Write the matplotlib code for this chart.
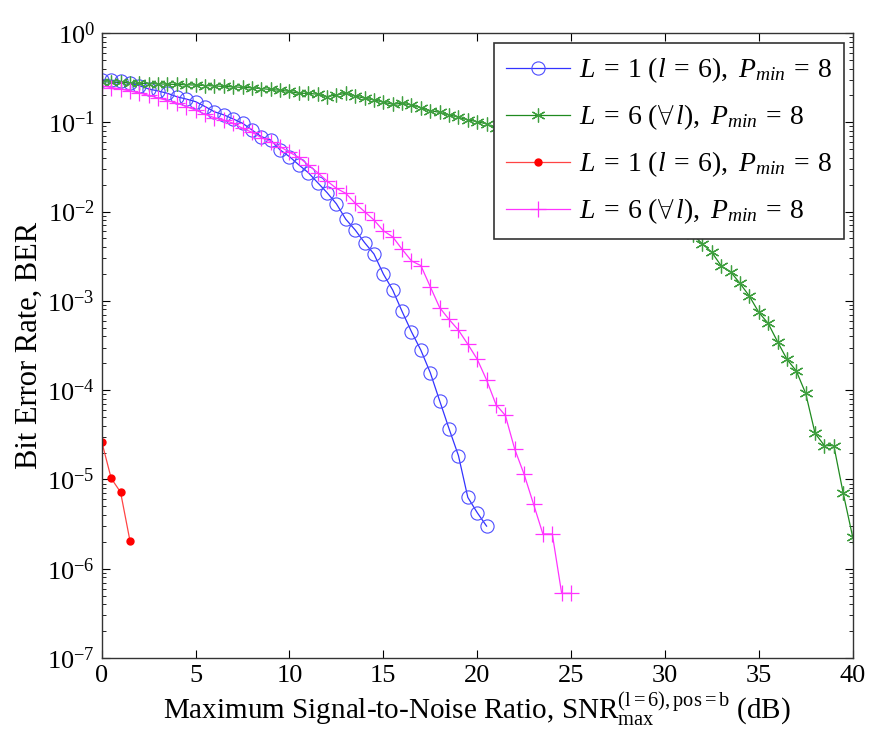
import numpy as np
import matplotlib
matplotlib.use('Agg')
import matplotlib.pyplot as plt

plt.rcParams['font.family'] = 'Liberation Serif'
plt.rcParams['mathtext.fontset'] = 'custom'
plt.rcParams['mathtext.rm'] = 'Liberation Serif'
plt.rcParams['mathtext.it'] = 'Liberation Serif:italic'
plt.rcParams['mathtext.bf'] = 'Liberation Serif:bold'

# datos (SNR en dB, BER)
snr_blue = np.arange(0, 20.51, 0.5)
ber_blue = [0.30, 0.296, 0.288, 0.273, 0.257, 0.236, 0.224, 0.211, 0.193, 0.182,
            0.170, 0.150, 0.131, 0.121, 0.109, 0.0975, 0.082, 0.069, 0.0633, 0.049,
            0.0412, 0.0333, 0.0273, 0.0211, 0.0163, 0.0122, 0.0082, 0.00622, 0.00449, 0.00335,
            0.0020, 0.00132, 7.6e-4, 4.5e-4, 2.8e-4, 1.57e-4, 7.6e-5, 3.7e-5, 1.85e-5, 6.3e-6,
            4.25e-6, 3.0e-6]

snr_green = np.arange(0, 40.01, 0.5)
ber_green = [0.285, 0.282, 0.279, 0.276, 0.273, 0.271, 0.269, 0.267, 0.265, 0.263,
             0.261, 0.258, 0.255, 0.252, 0.249, 0.246, 0.243, 0.238, 0.233, 0.228,
             0.222, 0.211, 0.211, 0.206, 0.194, 0.202, 0.211, 0.197, 0.186, 0.178,
             0.168, 0.159, 0.163, 0.156, 0.146, 0.135, 0.129, 0.121, 0.114, 0.106,
             0.1016, 0.0957, 0.087, 0.0785, 0.074,
             # tapado por la leyenda (estimado)
             0.0676, 0.0617, 0.0562, 0.0501, 0.0447, 0.0398, 0.0355, 0.0309, 0.0269, 0.0234,
             0.0204, 0.0178, 0.0155, 0.0132, 0.0112, 0.00955, 0.00813, 0.00676, 0.0055,
             4.34e-3, 3.5e-3, 2.46e-3, 2.12e-3, 1.57e-3, 1.13e-3, 7.45e-4, 5.6e-4, 3.49e-4,
             2.22e-4, 1.64e-4, 9.2e-5, 3.29e-5, 2.39e-5, 2.39e-5, 7.0e-6, 2.29e-6]

snr_red = [0, 0.5, 1.0, 1.5]
ber_red = [2.63e-5, 1.03e-5, 7.2e-6, 2.06e-6]

snr_magenta = np.arange(0, 25.01, 0.5)
ber_magenta = [0.255, 0.245, 0.236, 0.224, 0.213, 0.200, 0.187, 0.175, 0.164, 0.150,
               0.137, 0.123, 0.1125, 0.106, 0.0975, 0.0857, 0.0773, 0.0673, 0.0607, 0.0533,
               0.0461, 0.0405, 0.0333, 0.0273, 0.022, 0.0182, 0.016, 0.0124, 0.00998, 0.00805,
               6.1e-3, 5.2e-3, 3.78e-3, 2.8e-3, 2.48e-3, 1.44e-3, 8.4e-4, 6.2e-4, 4.7e-4, 3.27e-4,
               2.22e-4, 1.3e-4, 6.9e-5, 5.2e-5, 2.18e-5, 1.14e-5, 5.3e-6, 2.45e-6, 2.45e-6, 5.3e-7,
               5.3e-7]

labels = [r'$L\:=\:1\ (l\:=\:6),\ P_{min}\:=\:8$',
          r'$L\:=\:6\ (\forall\,l),\ P_{min}\:=\:8$',
          r'$L\:=\:1\ (l\:=\:6),\ P_{min}\:=\:8$',
          r'$L\:=\:6\ (\forall\,l),\ P_{min}\:=\:8$']


def main():
    fig = plt.figure(figsize=(8.7, 7.41), dpi=100)
    ax = fig.add_axes([0.117, 0.112, 0.863, 0.8435])

    ax.semilogy(snr_blue, ber_blue, '-o', color='#3333ff', lw=0.9, ms=9.5,
                mfc='none', mec='#4d4dff', mew=0.8, label=labels[0])
    ax.semilogy(snr_green, ber_green, '-', marker=(6, 2, 0), color='#1f8a1f', lw=0.9, ms=10,
                mec='#3f9f3f', mew=0.9, label=labels[1])
    ax.semilogy(snr_red, ber_red, '-o', color='#ff4444', lw=0.9, ms=5,
                mfc='red', mec='red', label=labels[2])
    ax.semilogy(snr_magenta, ber_magenta, '-+', color='#ff33ff', lw=0.9, ms=11,
                mew=0.9, label=labels[3])

    ax.set_xlim(0, 40)
    ax.set_ylim(1e-7, 1)
    ax.set_xticks(range(0, 41, 5))
    ax.tick_params(which='both', direction='in', top=True, right=True, labelsize=19, pad=5)
    ax.tick_params(which='major', length=6)
    ax.tick_params(which='minor', length=3)
    for s in ax.spines.values():
        s.set_color('#333333')
        s.set_linewidth(1.0)

    ax.set_xlabel(r'Maximum Signal-to-Noise Ratio, SNR$_{\mathrm{max}}^{\mathrm{(l=6),pos=b}}$ (dB)',
                  fontsize=21, labelpad=3)
    ax.set_ylabel('Bit Error Rate, BER', fontsize=22, labelpad=2)

    leg = ax.legend(loc='upper right', bbox_to_anchor=(0.989, 0.984), fontsize=20,
                    fancybox=False, framealpha=1, edgecolor='#333333',
                    handlelength=2.3, labelspacing=0.62, borderpad=0.45, handletextpad=0.3,
                    borderaxespad=0)
    leg.get_frame().set_linewidth(1.2)

    plt.savefig('out.png', dpi=100)


if __name__ == "__main__":
    main()
